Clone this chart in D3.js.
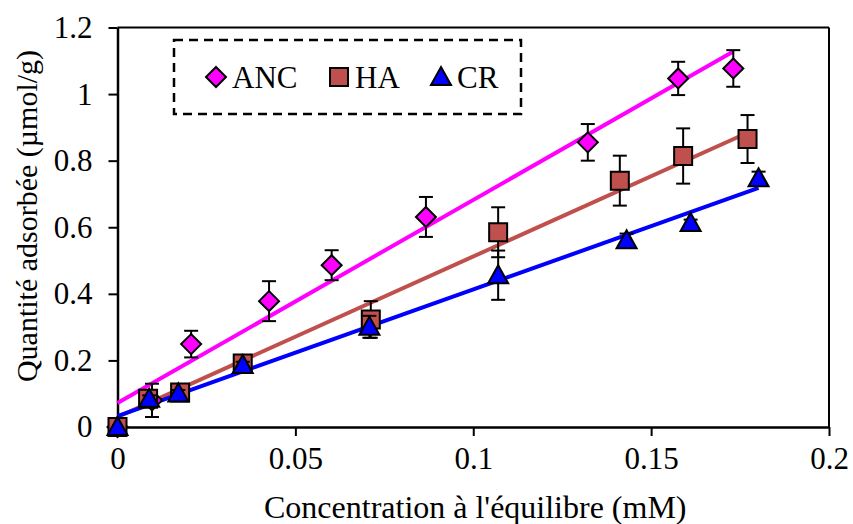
<!DOCTYPE html>
<html><head><meta charset="utf-8">
<script src="https://cdn.jsdelivr.net/npm/d3@7"></script>
<style>body{margin:0;background:#fff}svg{display:block}</style>
</head><body>
<svg id="c" width="853" height="524"></svg>
<script>
// ---- data ----
const seriesNames = ["ANC", "HA", "CR"];
const ancX = [0, 0.0097, 0.0207, 0.0426, 0.0602, 0.0867, 0.1322, 0.1576, 0.1731];
const ancY = [0, 0.08, 0.249, 0.378, 0.486, 0.631, 0.855, 1.047, 1.077];
const ancErr = [0, 0.05, 0.04, 0.06, 0.045, 0.06, 0.055, 0.05, 0.055];
const haX = [0, 0.0086, 0.0176, 0.0352, 0.0712, 0.107, 0.1412, 0.159, 0.1771];
const haY = [0, 0.085, 0.104, 0.191, 0.323, 0.585, 0.740, 0.814, 0.865];
const haErr = [0, 0.02, 0.015, 0.015, 0.055, 0.075, 0.075, 0.083, 0.072];
const crX = [0, 0.0089, 0.0171, 0.0352, 0.0708, 0.107, 0.1431, 0.1611, 0.1802];
const crY = [0, 0.085, 0.101, 0.186, 0.301, 0.456, 0.561, 0.613, 0.747];
const crErr = [0, 0.01, 0.01, 0.01, 0.033, 0.074, 0.02, 0.01, 0.02];
// trendlines: [x start, x end], [y start, y end]
const ancTrendX = [0, 0.1731], ancTrendY = [0.072, 1.128];
const haTrendX = [0, 0.1771], haTrendY = [0.030, 0.884];
const crTrendX = [0, 0.1802], crTrendY = [0.033, 0.718];
const xTicks = [0, 0.05, 0.1, 0.15, 0.2];
const xTickLabels = ["0", "0.05", "0.1", "0.15", "0.2"];
const yTicks = [0, 0.2, 0.4, 0.6, 0.8, 1, 1.2];
const yTickLabels = ["0", "0.2", "0.4", "0.6", "0.8", "1", "1.2"];
const xTitle = "Concentration à l'équilibre (mM)";
const yTitle = "Quantité adsorbée (µmol/g)";

// ---- layout ----
const svg = d3.select("#c");
const L = 117.5, R = 829, T = 27.5, B = 427;
const x = d3.scaleLinear().domain([0, 0.2]).range([L, R]);
const y = d3.scaleLinear().domain([0, 1.2]).range([B, T]);
const font = "'Liberation Serif','Times New Roman',serif";

const series = [
  {name: seriesNames[0], xs: ancX, ys: ancY, err: ancErr, tx: ancTrendX, ty: ancTrendY, color: "#FF00FF", shape: "diamond"},
  {name: seriesNames[1], xs: haX, ys: haY, err: haErr, tx: haTrendX, ty: haTrendY, color: "#C0504D", shape: "square"},
  {name: seriesNames[2], xs: crX, ys: crY, err: crErr, tx: crTrendX, ty: crTrendY, color: "#0000FF", shape: "triangle"}
];

function markerPath(shape) {
  if (shape === "diamond") return "M0,-10L10,0L0,10L-10,0Z";
  if (shape === "square") return "M-9,-9L9,-9L9,9L-9,9Z";
  return "M0,-10L10,8L-10,8Z";
}

// axes
const xAxis = d3.axisBottom(x).tickValues(xTicks).tickFormat((d, i) => xTickLabels[i]).tickSize(9).tickSizeOuter(0).tickPadding(11);
const yAxis = d3.axisLeft(y).tickValues(yTicks).tickFormat((d, i) => yTickLabels[i]).tickSize(9).tickSizeOuter(0).tickPadding(16);
const gx = svg.append("g").attr("transform", `translate(0,${B})`).call(xAxis);
const gy = svg.append("g").attr("transform", `translate(${L},0)`).call(yAxis);
[gx, gy].forEach(g => {
  g.select(".domain").attr("stroke", "#000").attr("stroke-width", 2.5);
  g.selectAll(".tick line").attr("stroke", "#000").attr("stroke-width", 2);
  g.selectAll(".tick text").attr("fill", "#000").attr("font-family", font).attr("font-size", 31);
});
gx.selectAll(".tick text").attr("dy", "0.71em");
// top & right frame
svg.append("line").attr("x1", L).attr("x2", R).attr("y1", T).attr("y2", T).attr("stroke", "#000").attr("stroke-width", 2);
svg.append("line").attr("x1", R).attr("x2", R).attr("y1", T).attr("y2", B).attr("stroke", "#000").attr("stroke-width", 2);

// trendlines
series.forEach(s => {
  svg.append("line")
    .attr("x1", x(s.tx[0])).attr("y1", y(s.ty[0]))
    .attr("x2", x(s.tx[1])).attr("y2", y(s.ty[1]))
    .attr("stroke", s.color).attr("stroke-width", 4);
});

// error bars + markers (draw per series, in order)
series.forEach(s => {
  const g = svg.append("g");
  s.xs.forEach((xv, i) => {
    const e = s.err[i];
    if (e > 0) {
      const cx = x(xv);
      g.append("line").attr("x1", cx).attr("x2", cx).attr("y1", y(s.ys[i] - e)).attr("y2", y(s.ys[i] + e)).attr("stroke", "#000").attr("stroke-width", 2);
      [s.ys[i] - e, s.ys[i] + e].forEach(v => {
        g.append("line").attr("x1", cx - 7).attr("x2", cx + 7).attr("y1", y(v)).attr("y2", y(v)).attr("stroke", "#000").attr("stroke-width", 2);
      });
    }
  });
  s.xs.forEach((xv, i) => {
    g.append("path").attr("d", markerPath(s.shape))
      .attr("transform", `translate(${x(xv)},${y(s.ys[i])})`)
      .attr("fill", s.color).attr("stroke", "#000").attr("stroke-width", 2);
  });
});

// legend
svg.append("rect").attr("x", 174).attr("y", 40).attr("width", 347).attr("height", 74)
  .attr("fill", "#fff").attr("stroke", "#000").attr("stroke-width", 2.5).attr("stroke-dasharray", "9,6");
const legX = [216, 339, 441];
series.forEach((s, i) => {
  svg.append("path").attr("d", markerPath(s.shape)).attr("transform", `translate(${legX[i]},77)`)
    .attr("fill", s.color).attr("stroke", "#000").attr("stroke-width", 2);
  svg.append("text").attr("x", legX[i] + 16).attr("y", 77).attr("dy", "0.35em")
    .attr("font-family", font).attr("font-size", 31).attr("fill", "#000").text(s.name);
});

// axis titles
svg.append("text").attr("x", (L + R) / 2 + 2).attr("y", 518).attr("text-anchor", "middle")
  .attr("font-family", font).attr("font-size", 32).attr("fill", "#000").text(xTitle);
svg.append("text").attr("transform", `translate(37,216) rotate(-90)`).attr("text-anchor", "middle")
  .attr("font-family", font).attr("font-size", 30).attr("fill", "#000").text(yTitle);
</script>
</body></html>
